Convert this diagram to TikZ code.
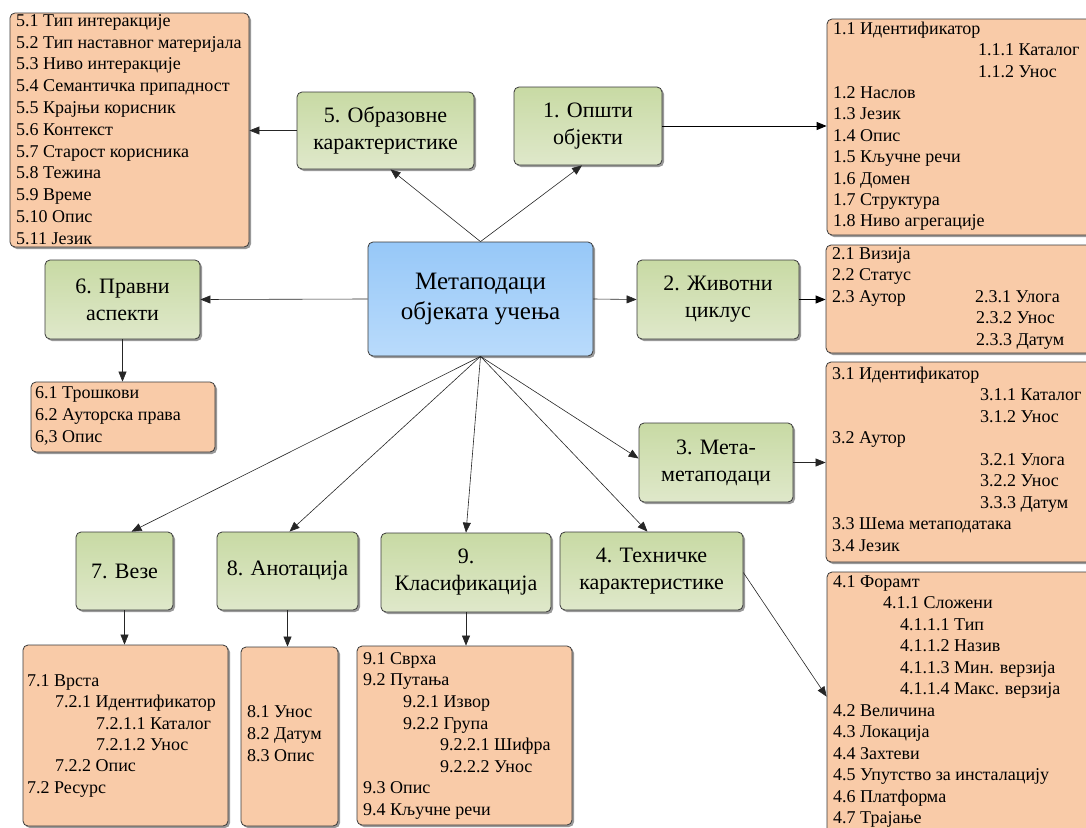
\documentclass[tikz,border=0pt]{standalone}
\usepackage{fontspec}
\setmainfont{Liberation Serif}
\newfontfamily\boxfont{Liberation Serif}
\usetikzlibrary{arrows.meta,shadows,calc}
\definecolor{peach}{HTML}{F9CBA8}
\definecolor{gtop}{HTML}{C8DAA4}
\definecolor{gbot}{HTML}{DFE8CA}
\definecolor{btop}{HTML}{97C8F8}
\definecolor{bbot}{HTML}{B9DBFB}
\definecolor{edge}{HTML}{3A3A3A}
\begin{document}
\begin{tikzpicture}[x=1pt,y=-1pt,
  arr/.style={-{Triangle[length=10pt,width=8pt]}, line width=0.6pt, draw=black!85},
  harr/.style={arr, line width=1pt, draw=black},
  box/.style={draw=edge, line width=0.8pt, rounded corners=5pt,
    drop shadow={shadow xshift=2pt, shadow yshift=-2pt, fill=black!40, opacity=1}},
  topic/.style={box, top color=gtop, bottom color=gbot, align=center, inner sep=0pt,
    font=\boxfont\fontsize{22}{27}\selectfont},
  hub/.style={box, top color=btop, bottom color=bbot, align=center, inner sep=0pt,
    font=\boxfont\fontsize{25}{30}\selectfont},
  listbox/.style={box, fill=peach, inner sep=0pt},
  item/.style={anchor=mid west, inner sep=0pt, font=\boxfont\fontsize{18}{20}\selectfont},
]
\useasboundingbox (0,0) rectangle (1086,827);
\clip (0,0) rectangle (1086,827);

% ---------- list boxes ----------
\node[listbox, minimum width=239pt, minimum height=234pt] (L5) at (129.5,130) {};
\node[listbox, minimum width=273pt, minimum height=216pt] (L1) at (963.5,127) {};
\node[listbox, minimum width=274pt, minimum height=108pt] (L2) at (963,299) {};
\node[listbox, minimum width=274pt, minimum height=200pt] (L3) at (963,462) {};
\node[listbox, minimum width=273pt, minimum height=273pt] (L4) at (963.5,708.5) {};
\node[listbox, minimum width=184pt, minimum height=70pt] (L6) at (123,417) {};
\node[listbox, minimum width=205pt, minimum height=181pt] (L7) at (125.5,735.5) {};
\node[listbox, minimum width=97pt, minimum height=179pt] (L8) at (289.5,736.5) {};
\node[listbox, minimum width=215pt, minimum height=179pt] (L9) at (464.5,735.5) {};

% ---------- topic boxes ----------
\node[hub, minimum width=225pt, minimum height=114pt] (C) at (480.5,299) {Метаподаци\\објеката учења};
\node[topic, minimum width=177pt, minimum height=77pt] (N5) at (385.5,130.5) {5. Образовне\\карактеристике};
\node[topic, minimum width=148pt, minimum height=78pt] (N1) at (588,126) {1. Општи\\објекти};
\node[topic, minimum width=155pt, minimum height=79pt] (N6) at (122.5,299.5) {6. Правни\\аспекти};
\node[topic, minimum width=162pt, minimum height=79pt] (N2) at (718,299.5) {2. Животни\\циклус};
\node[topic, minimum width=154pt, minimum height=79pt] (N3) at (716,462.5) {3. Мета-\\метаподаци};
\node[topic, minimum width=97pt, minimum height=78pt] (N7) at (124.5,571) {7. Везе};
\node[topic, minimum width=141pt, minimum height=78pt] (N8) at (287.5,571) {8. Анотација};
\node[topic, minimum width=170pt, minimum height=79pt] (N9) at (466,572.5) {9.\\Класификација};
\node[topic, minimum width=183pt, minimum height=78pt] (N4) at (651.5,571) {4. Техничке\\карактеристике};

% ---------- list texts ----------
\foreach \x/\r/\t [count=\i] in {
  16/0/{5.1 Тип интеракције}, 16/1/{5.2 Тип наставног материјала},
  16/2/{5.3 Ниво интеракције}, 16/3/{5.4 Семантичка припадност},
  16/4/{5.5 Крајњи корисник}, 16/5/{5.6 Контекст},
  16/6/{5.7 Старост корисника}, 16/7/{5.8 Тежина}, 16/8/{5.9 Време},
  16/9/{5.10 Опис}, 16/10/{5.11 Језик}}
  \node[item] (t5-\i) at (\x, 24+21.8*\r) {\t};

\foreach \x/\r/\t [count=\i] in {
  833/0/{1.1 Идентификатор}, 978/1/{1.1.1 Каталог}, 978/2/{1.1.2 Унос},
  833/3/{1.2 Наслов}, 833/4/{1.3 Језик}, 833/5/{1.4 Опис},
  833/6/{1.5 Кључне речи}, 833/7/{1.6 Домен}, 833/8/{1.7 Структура},
  833/9/{1.8 Ниво агрегације}}
  \node[item] (t1-\i) at (\x, 32+21.4*\r) {\t};

\foreach \x/\r/\t [count=\i] in {
  832/0/{2.1 Визија}, 832/1/{2.2 Статус}, 832/2/{2.3 Аутор},
  975/2/{2.3.1 Улога}, 976/3/{2.3.2 Унос}, 976/4/{2.3.3 Датум}}
  \node[item] (t2-\i) at (\x, 257+21.5*\r) {\t};

\foreach \x/\r/\t [count=\i] in {
  832/0/{3.1 Идентификатор}, 980/1/{3.1.1 Каталог}, 980/2/{3.1.2 Унос},
  832/3/{3.2 Аутор}, 980/4/{3.2.1 Улога}, 980/5/{3.2.2 Унос},
  980/6/{3.3.3 Датум}, 832/7/{3.3 Шема метаподатака}, 832/8/{3.4 Језик}}
  \node[item] (t3-\i) at (\x, 377+21.5*\r) {\t};

\foreach \x/\r/\t [count=\i] in {
  833/0/{4.1 Форамт}, 883/1/{4.1.1 Сложени}, 900/2/{4.1.1.1 Тип},
  900/3/{4.1.1.2 Назив}, 900/4/{4.1.1.3 Мин. верзија},
  900/5/{4.1.1.4 Макс. верзија}, 833/6/{4.2 Величина},
  833/7/{4.3 Локација}, 833/8/{4.4 Захтеви},
  833/9/{4.5 Упутство за инсталацију}, 833/10/{4.6 Платформа},
  833/11/{4.7 Трајање}}
  \node[item] (t4-\i) at (\x, 585+21.5*\r) {\t};

\foreach \x/\r/\t [count=\i] in {
  35/0/{6.1 Трошкови}, 35/1/{6.2 Ауторска права}, 35/2/{6,3 Опис}}
  \node[item] (t6-\i) at (\x, 396+22*\r) {\t};

\foreach \x/\r/\t [count=\i] in {
  27/0/{7.1 Врста}, 55/1/{7.2.1 Идентификатор}, 96/2/{7.2.1.1 Каталог},
  96/3/{7.2.1.2 Унос}, 55/4/{7.2.2 Опис}, 27/5/{7.2 Ресурс}}
  \node[item] (t7-\i) at (\x, 684+21.4*\r) {\t};

\foreach \x/\r/\t [count=\i] in {
  247/0/{8.1 Унос}, 247/1/{8.2 Датум}, 247/2/{8.3 Опис}}
  \node[item] (t8-\i) at (\x, 715+22*\r) {\t};

\foreach \x/\r/\t [count=\i] in {
  363/0/{9.1 Сврха}, 363/1/{9.2 Путања}, 403/2/{9.2.1 Извор},
  403/3/{9.2.2 Група}, 440/4/{9.2.2.1 Шифра}, 440/5/{9.2.2.2 Унос},
  363/6/{9.3 Опис}, 363/7/{9.4 Кључне речи}}
  \node[item] (t9-\i) at (\x, 662+21.6*\r) {\t};

% ---------- connectors ----------
\coordinate (n5in) at ($(N5.south)+(5,0)$);
\coordinate (n1in) at ($(N1.south)+(-6,0)$);
\coordinate (n3in) at ($(N3.west)+(0,-4)$);
\coordinate (n4in) at ($(N4.north)+(-4,0)$);
\coordinate (n8in) at ($(N8.north)+(2,0)$);
\coordinate (n7in) at ($(N7.north)+(7,0)$);
\coordinate (n4out) at ($(N4.north east)+(0,41)$);
\coordinate (l4in) at ($(L4.north west)+(0,125)$);

\draw[arr] (C.north) -- (n5in);
\draw[arr] (C.north) -- (n1in);
\draw[arr] (C.west) -- (N6.east);
\draw[arr] (C.east) -- (N2.west);
\draw[arr] (C.south) -- (n3in);
\draw[arr] (C.south) -- (n4in);
\draw[arr] (C.south) -- (N9.north);
\draw[arr] (C.south) -- (n8in);
\draw[arr] (C.south) -- (n7in);

\draw[arr] (N5.west) -- (N5.west -| L5.east);
\draw[harr] (N1.east) -- (N1.east -| L1.west);
\draw[harr] (N2.east) -- (N2.east -| L2.west);
\draw[arr] (N3.east) -- (N3.east -| L3.west);
\draw[arr] (n4out) -- (l4in);
\draw[arr] (N6.south) -- (N6.south |- L6.north);
\draw[arr] (N7.south) -- (N7.south |- L7.north);
\draw[arr] (N8.south) -- (N8.south |- L8.north);
\draw[arr] (N9.south) -- (N9.south |- L9.north);
\end{tikzpicture}
\end{document}
